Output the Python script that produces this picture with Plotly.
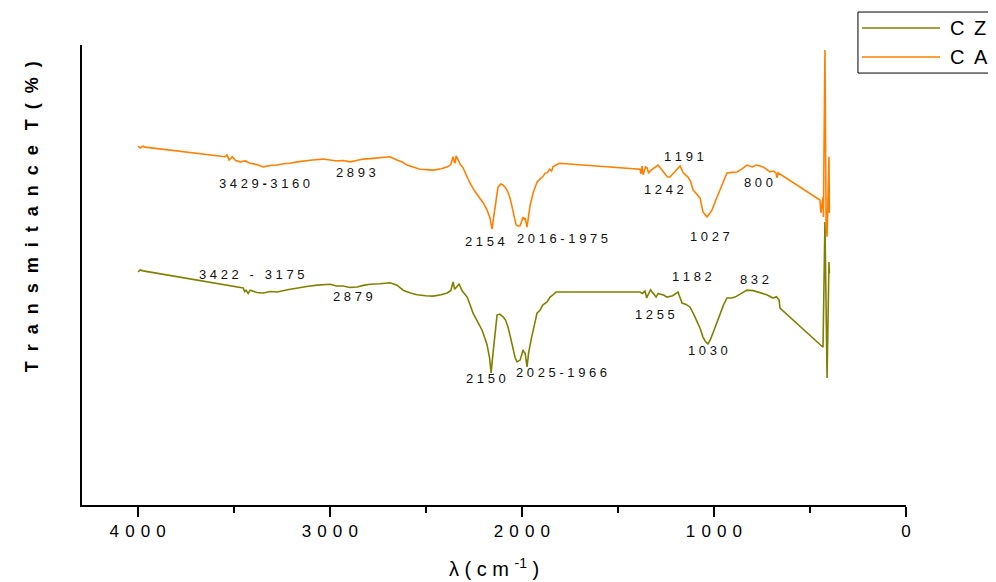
import plotly.graph_objects as go

NB = "\u00a0"

# ---- data (wavenumber cm-1, transmittance arbitrary %) ----
ca_wn = [3998, 3987, 3972, 3961, 3545, 3535, 3524, 3508, 3490, 3467, 3440, 3415, 3380, 3347, 3310, 3274,
         3240, 3207, 3170, 3139, 3090, 3035, 3000, 2962, 2930, 2894, 2860, 2827, 2790, 2754, 2720, 2686,
         2650, 2620, 2598, 2560, 2530, 2495, 2462, 2420, 2389, 2370, 2358, 2352, 2348, 2342, 2337, 2320,
         2306, 2290, 2270, 2245, 2218, 2200, 2181, 2166, 2160, 2155, 2148, 2140, 2124, 2110, 2098, 2085,
         2072, 2060, 2046, 2030, 2018, 2009, 2000, 1994, 1988, 1983, 1973, 1965, 1957, 1940, 1921, 1905,
         1890, 1880, 1869, 1855, 1845, 1838, 1825, 1806,
         1385, 1380, 1374, 1369, 1364, 1356, 1348, 1340, 1333, 1310, 1291, 1260, 1242, 1229, 1205, 1190,
         1176, 1160, 1135, 1120, 1109, 1090, 1072, 1065, 1057, 1045, 1036, 1025, 1010, 990, 968, 950, 932,
         905, 880, 855, 828, 800, 780, 760, 740, 720, 708, 690, 677, 672, 666,
         448, 443, 432, 430, 422, 416, 411, 401, 399]
ca_t = [78.0, 77.6, 78.0, 77.8, 75.7, 76.1, 75.0, 75.7, 74.9, 74.6, 74.8, 74.3, 74.0, 73.5, 73.8, 73.9,
        74.2, 74.3, 74.6, 74.8, 75.0, 75.2, 75.0, 74.8, 74.9, 74.6, 74.9, 75.2, 75.3, 75.4, 75.5, 75.7,
        75.0, 74.5, 73.9, 73.4, 73.0, 72.9, 72.8, 73.1, 73.5, 74.0, 75.7, 74.6, 74.3, 75.9, 75.4, 74.0,
        73.3, 71.8, 70.0, 68.2, 66.7, 65.6, 64.1, 62.4, 61.0, 60.0, 62.2, 64.8, 69.1, 69.8, 69.6, 69.0,
        68.0, 66.5, 64.1, 60.9, 60.6, 60.7, 61.8, 62.6, 62.0, 62.4, 60.4, 63.0, 65.2, 68.0, 70.2, 70.9,
        71.4, 72.1, 72.2, 73.0, 72.6, 73.5, 73.9, 74.3,
        73.0, 72.0, 73.7, 71.8, 72.4, 73.5, 73.3, 72.1, 72.6, 73.4, 73.9, 72.3, 71.3, 71.3, 72.4, 73.0,
        73.7, 72.2, 71.3, 70.2, 68.5, 67.6, 66.7, 65.3, 63.7, 63.1, 62.6, 63.2, 64.1, 66.3, 68.5, 70.5,
        72.2, 72.3, 72.4, 73.0, 73.9, 73.5, 73.9, 73.7, 73.4, 72.8, 72.4, 72.6, 72.2, 71.1, 72.2,
        66.3, 63.5, 67.0, 62.6, 98.9, 62.0, 58.3, 75.7, 63.5]

cz_wn = [3998, 3987, 3972, 3451, 3443, 3436, 3425, 3415, 3380, 3347, 3310, 3274, 3220, 3170, 3120, 3066,
         2998, 2965, 2931, 2895, 2858, 2820, 2790, 2740, 2686, 2650, 2618, 2580, 2546, 2500, 2462, 2420,
         2389, 2370, 2358, 2350, 2337, 2327, 2310, 2285, 2270, 2254, 2230, 2207, 2190, 2181, 2168, 2160,
         2150, 2140, 2129, 2115, 2098, 2085, 2072, 2060, 2046, 2035, 2025, 2009, 2000, 1994, 1988, 1983,
         1973, 1965, 1952, 1935, 1921, 1905, 1890, 1870, 1853, 1840, 1822,
         1385, 1372, 1359, 1350, 1343, 1330, 1322, 1310, 1301, 1290, 1281, 1260, 1244, 1215, 1187, 1175,
         1166, 1145, 1124, 1100, 1083, 1070, 1057, 1045, 1031, 1018, 1005, 985, 968, 950, 932, 910, 890,
         860, 828, 795, 760, 725, 692, 675, 661, 656,
         432, 422, 411, 401, 399]
cz_t = [50.7, 51.1, 50.9, 47.2, 46.4, 46.7, 46.0, 46.7, 46.2, 46.1, 46.4, 46.3, 46.8, 47.2, 47.5, 47.8,
        48.0, 47.6, 47.6, 47.3, 47.4, 47.8, 48.0, 48.1, 48.3, 47.8, 46.7, 46.1, 45.7, 45.5, 45.4, 45.7,
        46.1, 46.6, 48.5, 46.9, 47.4, 48.0, 46.5, 45.2, 43.6, 41.7, 39.8, 38.0, 36.0, 34.8, 32.0, 28.7,
        33.0, 37.5, 41.3, 41.5, 40.9, 40.2, 38.7, 36.6, 33.7, 32.0, 31.1, 31.5, 32.8, 33.7, 33.2, 33.0,
        30.0, 33.0, 35.9, 39.2, 41.7, 42.4, 43.5, 44.1, 45.2, 45.6, 46.3,
        46.3, 46.0, 46.5, 45.0, 45.7, 46.8, 46.3, 45.5, 45.2, 46.0, 45.9, 45.6, 45.2, 45.5, 46.3, 45.0,
        43.9, 43.6, 43.0, 41.0, 39.6, 38.2, 36.5, 35.6, 35.0, 36.0, 37.4, 39.5, 41.7, 43.5, 45.0, 45.0,
        45.2, 45.9, 46.7, 46.6, 46.1, 45.7, 45.0, 45.3, 44.6, 42.8,
        34.3, 61.5, 27.6, 52.8, 50.4]

series_names = ["C Z", "C A"]
series_colors = ["#808000", "#FF8000"]

# peak labels: (text, wavenumber, T)
labels_raw = ["3429▬3160", "2893", "2154", "2016-1975", "1191", "1242", "1027", "800",
              "3422 - 3175", "2879", "1182", "1255", "1030", "832", "2150", "2025-1966"]
labels_wn = [3342, 2863, 2192, 1786, 1155, 1260, 1020, 770, 3404, 2879, 1114, 1306, 1031, 791, 2186, 1796]
labels_t = [70.0, 72.2, 57.2, 58.0, 75.7, 68.5, 58.3, 70.2, 50.2, 45.4, 49.6, 41.5, 33.5, 49.1, 27.4, 28.7]

tick_vals = [4000, 3000, 2000, 1000, 0]
tick_raw = ["4000", "3000", "2000", "1000", "0"]


def spaced(s, sep=NB):
    return sep.join(NB if c == " " else c for c in s)


fig = go.Figure()
for xs, ys, nm, col in [(cz_wn, cz_t, series_names[0], series_colors[0]),
                        (ca_wn, ca_t, series_names[1], series_colors[1])]:
    fig.add_trace(go.Scatter(x=xs, y=ys, mode="lines", name=nm, showlegend=False,
                             line=dict(color=col, width=1.6)))

for t, x, y in zip(labels_raw, labels_wn, labels_t):
    txt = spaced(t).replace("▬", "<b>-</b>")
    fig.add_annotation(x=x, y=y, text=txt, showarrow=False, xref="x", yref="y",
                       font=dict(size=13, color="#111111", family="Liberation Sans, Arial"))

# y-axis title
ytitle = (NB * 2).join("Transmitance") + NB * 3 + (NB * 2).join("T(%)")
fig.add_annotation(xref="paper", yref="paper", x=-0.075, y=0.626, textangle=-90, showarrow=False,
                   text="<b>" + ytitle + "</b>",
                   font=dict(size=18, color="black", family="Liberation Sans, Arial"))

# x-axis title
fig.add_annotation(xref="paper", yref="paper", x=0.5, y=-0.135, yanchor="middle", showarrow=False,
                   text="λ" + NB + "(" + NB + "c" + NB + "m" + NB + "<sup>-1</sup>" + NB + ")",
                   font=dict(size=20, color="black", family="Liberation Sans, Arial"))

# manual legend box (top right, outside plot area)
fig.add_shape(type="rect", xref="paper", yref="paper", x0=0.9417, x1=1.108, y0=0.939, y1=1.0717,
              line=dict(color="black", width=1), fillcolor="white", layer="above")
for i, (nm, col) in enumerate(zip(series_names, series_colors)):
    yy = 1.037 - i * 0.063
    fig.add_shape(type="line", xref="paper", yref="paper", x0=0.9466, x1=1.0413, y0=yy, y1=yy,
                  line=dict(color=col, width=1.6), layer="above")
    fig.add_annotation(xref="paper", yref="paper", x=1.051, y=yy, xanchor="left", yanchor="middle",
                       showarrow=False, text=nm.replace(" ", NB + "\u2009"),
                       font=dict(size=20, color="black", family="Liberation Sans, Arial"))

fig.update_layout(
    width=988, height=574,
    margin=dict(l=74, r=90, t=37, b=77),
    paper_bgcolor="white", plot_bgcolor="white",
    font=dict(family="Liberation Sans, Arial", color="black"),
    showlegend=False,
    xaxis=dict(range=[4290, 0], showline=True, linecolor="black", linewidth=1.5,
               ticks="outside", ticklen=10, tickwidth=1.5, tickcolor="black",
               tickvals=tick_vals, ticktext=[spaced(s, NB + "\u200a") for s in tick_raw],
               tickfont=dict(size=17),
               minor=dict(tickvals=[3500, 2500, 1500, 500], ticks="outside", ticklen=6,
                          tickwidth=1.5, tickcolor="black"),
               showgrid=False, zeroline=False),
    yaxis=dict(range=[0, 100], showline=True, linecolor="black", linewidth=1.5,
               showticklabels=False, ticks="", showgrid=False, zeroline=False),
)

fig.write_html("out.html")
